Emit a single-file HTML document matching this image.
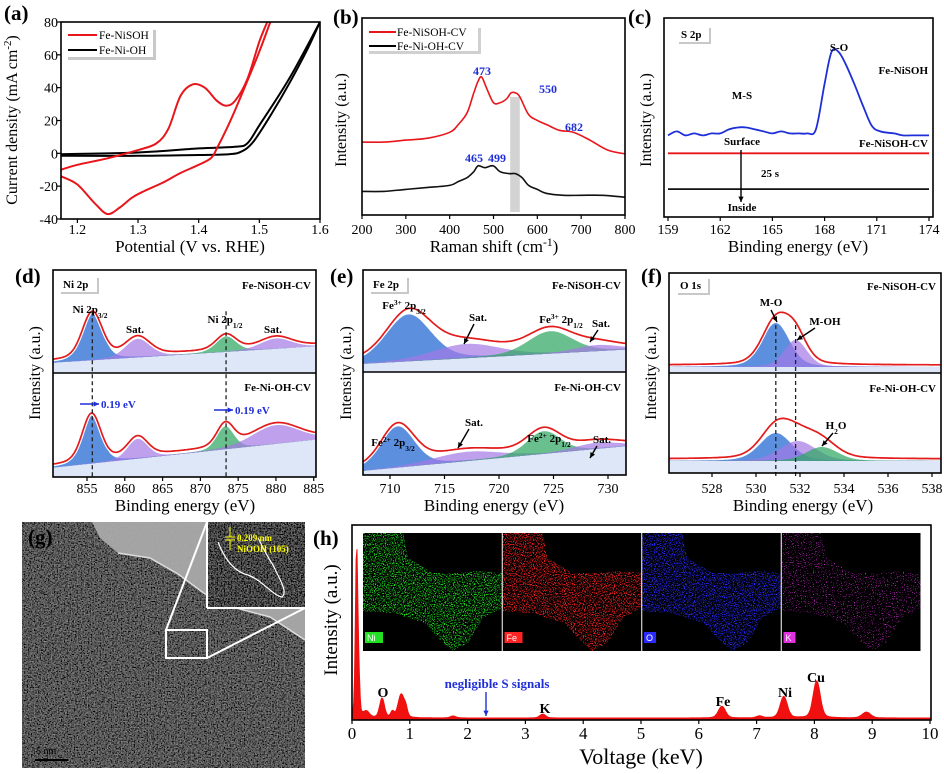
<!DOCTYPE html>
<html><head><meta charset="utf-8">
<style>
html,body{margin:0;padding:0;background:#fff;}
svg{display:block;font-family:"Liberation Serif","Noto Serif CJK SC",serif;}
</style></head>
<body>
<svg id="fig" width="944" height="774" viewBox="0 0 944 774" xmlns="http://www.w3.org/2000/svg">
<defs>
<filter id="tem" x="0" y="0" width="100%" height="100%">
<feTurbulence type="fractalNoise" baseFrequency="0.7" numOctaves="3" seed="3" result="n"/>
<feColorMatrix in="n" type="matrix" values="0.33 0.33 0.33 0 0  0.33 0.33 0.33 0 0  0.33 0.33 0.33 0 0  0 0 0 0 1" result="g"/>
<feComposite in="g" in2="SourceGraphic" operator="arithmetic" k1="0" k2="0.9" k3="0.7" k4="-0.42"/>
</filter>
<filter id="speck" x="0" y="0" width="100%" height="100%">
<feTurbulence type="fractalNoise" baseFrequency="0.9" numOctaves="1" seed="7" result="n"/>
<feColorMatrix in="n" type="matrix" values="0 0 0 0 0  0 0 0 0 0  0 0 0 0 0  10 0 0 0 -5.2" result="m"/>
<feComposite in="SourceGraphic" in2="m" operator="in"/>
</filter>
<filter id="speckK" x="0" y="0" width="100%" height="100%">
<feTurbulence type="fractalNoise" baseFrequency="0.9" numOctaves="1" seed="11" result="n"/>
<feColorMatrix in="n" type="matrix" values="0 0 0 0 0  0 0 0 0 0  0 0 0 0 0  12 0 0 0 -7.4" result="m"/>
<feComposite in="SourceGraphic" in2="m" operator="in"/>
</filter>
</defs>
</svg>
<script>
// ---------- data ----------
// (a) CV
const aRedX=[1.173,1.2,1.25,1.3,1.33,1.35,1.37,1.39,1.41,1.43,1.445,1.46,1.48,1.5,1.513];
const aRedY=[-10,-7,-3,2,6,15,35,42,40,32,29,32,45,68,80];
const aRedRevX=[1.518,1.5,1.47,1.45,1.43,1.42,1.40,1.37,1.34,1.31,1.29,1.27,1.25,1.23,1.2,1.173];
const aRedRevY=[80,62,35,18,3,-3,-7,-12,-18,-23,-27,-33,-37,-31,-19,-14];
const aBlkX=[1.173,1.3,1.4,1.45,1.47,1.49,1.52,1.55,1.58,1.6];
const aBlkY=[-1.5,-1.5,-1,-0.5,1,7,24,43,64,80];
const aBlkRevX=[1.6,1.55,1.5,1.48,1.46,1.4,1.3,1.173];
const aBlkRevY=[80,46,17,6,4,3,0.5,-0.5];
const aXTicks=[1.2,1.3,1.4,1.5,1.6];
const aYTicks=[-40,-20,0,20,40,60,80];
// (b) Raman
const bX=[200,250,300,350,400,420,440,455,465,473,485,500,515,530,540,550,560,580,600,620,650,682,720,760,800];
const bRed=[37,37,38,39,42,46,52,62,68,70,64,57,57,59,62,62,60,51,48,46,43,42,38,33,31];
const bBlkX=[200,250,300,350,400,420,440,455,465,480,499,515,535,550,565,580,600,620,660,700,750,800];
const bBlk=[12,12,13,14,15,17,19,22,25,24,25,22,21,21,19,15,13,11,10,10,10,9];
const bXTicks=[200,300,400,500,600,700,800];
// (c) S 2p
const cBlueX=[159,159.5,160,160.5,161,161.5,162,162.5,163,163.5,164,164.5,165,165.5,166,166.5,167,167.5,168,168.4,168.8,169.2,169.7,170.2,170.7,171.2,172,172.5,173,173.5,174];
const cBlue=[41,43,41,42,41,42,42,44,45,45,44,43,42,43,42,42,42,44,67,83,83,77,67,56,46,43,42,41,41,41,41];
const cRedLevel=32;
const cBlkLevel=14;
const cXTicks=[159,162,165,168,171,174];
// (d) Ni 2p  [centers, heights, widths]
const dTopC=[855.7,861.7,873.4,880.0], dTopH=[45,18,15,10], dTopW=[1.3,1.6,1.3,2.0], dTopBg=[10,26];
const dBotC=[855.6,861.7,873.3,880.0], dBotH=[46,19,22,18], dBotW=[1.2,1.3,1.1,3.0], dBotBg=[9,36];
const dXTicks=[855,860,865,870,875,880,885];
// (e) Fe 2p
const eTopC=[711.7,717.0,724.7,729.0], eTopH=[46,14,22,6], eTopW=[2.0,3.0,2.0,2.0], eTopBg=[8,22];
const eBotC=[710.7,717.0,724.1,729.0], eBotH=[40,9,22,6], eBotW=[1.5,3.0,1.5,2.0], eBotBg=[4,28];
const eXTicks=[710,715,720,725,730];
// (f) O 1s
const fTopC=[530.9,531.8], fTopH=[44,27], fTopW=[0.6,0.5], fTopBg=[6,6];
const fBotC=[530.9,531.9,533.0], fBotH=[28,20,14], fBotW=[0.7,0.8,0.7], fBotBg=[12,12];
const fXTicks=[528,530,532,534,536,538];
// (h) EDS
const hC=[0.08,0.12,0.25,0.52,0.7,0.85,0.93,1.75,3.3,6.4,7.05,7.47,8.04,8.9];
const hH=[88,15,3,10,3,12,4,1,2,6,1,11,19,3];
const hW=[0.02,0.015,0.05,0.04,0.03,0.05,0.03,0.05,0.05,0.06,0.05,0.06,0.06,0.07];
const hXTicks=[0,1,2,3,4,5,6,7,8,9,10];

// ---------- helpers ----------
const NS='http://www.w3.org/2000/svg';
const svg=document.getElementById('fig');
function mk(parent,tag,attrs,name,text){
  const el=document.createElementNS(NS,tag);
  for(const k in attrs) el.setAttribute(k,attrs[k]);
  
  
  if(text!==undefined) el.textContent=text;
  parent.appendChild(el); return el;
}
function lin(d0,d1,p0,p1){return v=>p0+(v-d0)/(d1-d0)*(p1-p0);}
function poly(pts){return 'M'+pts.map(p=>p[0].toFixed(1)+','+p[1].toFixed(1)).join('L');}
function smooth(pts){
  let d='M'+pts[0][0].toFixed(1)+','+pts[0][1].toFixed(1);
  for(let i=0;i<pts.length-1;i++){
    const p0=pts[i-1]||pts[i],p1=pts[i],p2=pts[i+1],p3=pts[i+2]||p2;
    const c1=[p1[0]+(p2[0]-p0[0])/6,p1[1]+(p2[1]-p0[1])/6];
    const c2=[p2[0]-(p3[0]-p1[0])/6,p2[1]-(p3[1]-p1[1])/6];
    d+=' C'+c1[0].toFixed(1)+','+c1[1].toFixed(1)+' '+c2[0].toFixed(1)+','+c2[1].toFixed(1)+' '+p2[0].toFixed(1)+','+p2[1].toFixed(1);
  }
  return d;
}
function box(g,x0,y0,x1,y1,name){mk(g,'rect',{x:x0,y:y0,width:x1-x0,height:y1-y0,fill:'none',stroke:'#000','stroke-width':1.6},name);}
function xTicks(g,ticks,xs,yb,ty,fs,name){
  ticks.forEach(t=>{
    mk(g,'line',{x1:xs(t),x2:xs(t),y1:yb,y2:yb+4,stroke:'#000','stroke-width':1.2},name+'-tick');
    mk(g,'text',{x:xs(t),y:ty,'font-size':fs,'text-anchor':'middle'},name+'-label',String(t));
  });
}
function ytitle(g,x,y,txt,fs,name){mk(g,'text',{x:x,y:y,'font-size':fs,'text-anchor':'middle',transform:'rotate(-90 '+x+' '+y+')'},name,txt);}
function plabel(g,x,y,txt){mk(g,'text',{x:x,y:y,'font-size':21,'font-weight':'bold'},'panel-label',txt);}
function btxt(g,x,y,txt,fs,anchor,name,fill){return mk(g,'text',{x:x,y:y,'font-size':fs||11,'font-weight':'bold','text-anchor':anchor||'middle',fill:fill||'#000'},name,txt);}
function rtxt(g,x,y,parts,fs,anchor,name,bold,transform){
  const at={x:x,y:y,'font-size':fs,'text-anchor':anchor||'middle'};
  if(bold) at['font-weight']='bold';
  if(transform) at.transform=transform;
  const t=mk(g,'text',at,name);
  parts.forEach(p=>{
    const s=mk(t,'tspan',{},name+'-part',p[0]);
    if(p[1]==='sub'){s.setAttribute('font-size',fs*0.68);s.setAttribute('baseline-shift','sub');}
    if(p[1]==='sup'){s.setAttribute('font-size',fs*0.68);s.setAttribute('baseline-shift','super');}
  });
  return t;
}
function gauss(x,c,h,w){const u=(x-c)/w;return h*(0.75*Math.exp(-u*u/2)+0.25/(1+u*u/2));}
function arrow(g,x1,y1,x2,y2,col,name){
  mk(g,'line',{x1:x1,y1:y1,x2:x2,y2:y2,stroke:col,'stroke-width':1.4},name);
  const a=Math.atan2(y2-y1,x2-x1),L=6;
  const p=[[x2,y2],[x2-L*Math.cos(a-0.45),y2-L*Math.sin(a-0.45)],[x2-L*Math.cos(a+0.45),y2-L*Math.sin(a+0.45)]];
  mk(g,'path',{d:poly(p)+'Z',fill:col},name+'-head');
}
function tagBox(g,x,y,txt,name){
  mk(g,'rect',{x:x+2,y:y+2,width:txt.length*6+8,height:16,fill:'#c8c8c8'},name+'-shadow');
  mk(g,'rect',{x:x,y:y,width:txt.length*6+8,height:16,fill:'#fff'},name+'-bg');
  btxt(g,x+4,y+12,txt,11,'start',name);
}
const COL={b:['#2f6fd6',0.78],p:['#a478e6',0.7],g:['#2fa862',0.72]};

// ---------- (a) ----------
(function(){
  const g=mk(svg,'g',{},'panel-a-cv');
  const X0=61,X1=320,Y0=22,Y1=219;
  const xs=lin(1.173,1.6,X0,X1), ys=lin(-40,80,Y1,Y0);
  const clip=mk(g,'clipPath',{id:'clipA'},'clip-a');
  mk(clip,'rect',{x:X0,y:Y0,width:X1-X0,height:Y1-Y0},'clip-a-rect');
  const pl=mk(g,'g',{'clip-path':'url(#clipA)'},'plot-area-a');
  mk(pl,'path',{d:smooth(aBlkX.map((x,i)=>[xs(x),ys(aBlkY[i])])),fill:'none',stroke:'#000','stroke-width':2},'fe-ni-oh-forward');
  mk(pl,'path',{d:smooth(aBlkRevX.map((x,i)=>[xs(x),ys(aBlkRevY[i])])),fill:'none',stroke:'#000','stroke-width':2},'fe-ni-oh-reverse');
  mk(pl,'path',{d:smooth(aRedX.map((x,i)=>[xs(x),ys(aRedY[i])])),fill:'none',stroke:'#e8161b','stroke-width':2},'fe-nisoh-forward');
  mk(pl,'path',{d:smooth(aRedRevX.map((x,i)=>[xs(x),ys(aRedRevY[i])])),fill:'none',stroke:'#e8161b','stroke-width':2},'fe-nisoh-reverse');
  box(g,X0,Y0,X1,Y1,'plot-frame-a');
  xTicks(g,aXTicks,xs,Y1,234,14,'x-tick-a');
  aYTicks.forEach(t=>{
    mk(g,'line',{x1:X0,x2:X0-4,y1:ys(t),y2:ys(t),stroke:'#000','stroke-width':1.2},'y-tick-a');
    mk(g,'text',{x:X0-3,y:ys(t)+5,'font-size':14,'text-anchor':'end'},'y-tick-label-a',String(t));
  });
  rtxt(g,190,252,[['Potential (V '],['vs.','i'],[' RHE)']],17,'middle','x-axis-title-a',false);
  rtxt(g,17,120,[['Current density (mA cm'],['-2','sup'],[')']],16,'middle','y-axis-title-a',false,'rotate(-90 17 120)');
  plabel(g,4,20,'(a)');
  mk(g,'rect',{x:68,y:30,width:88,height:30,fill:'#c8c8c8'},'legend-shadow-a');
  mk(g,'rect',{x:65,y:27,width:88,height:30,fill:'#fff'},'legend-a');
  mk(g,'line',{x1:68,x2:97,y1:35,y2:35,stroke:'#e8161b','stroke-width':2},'legend-swatch-fe-nisoh');
  mk(g,'text',{x:99,y:39,'font-size':11.5},'legend-entry-fe-nisoh','Fe-NiSOH');
  mk(g,'line',{x1:68,x2:97,y1:50,y2:50,stroke:'#000','stroke-width':2},'legend-swatch-fe-ni-oh');
  mk(g,'text',{x:99,y:54,'font-size':11.5},'legend-entry-fe-ni-oh','Fe-Ni-OH');
})();

// ---------- (b) ----------
(function(){
  const g=mk(svg,'g',{},'panel-b-raman');
  const X0=362,X1=625,Y0=18,Y1=215;
  const xs=lin(200,800,X0,X1), ys=lin(0,100,Y1,Y0);
  mk(g,'rect',{x:xs(538),y:97,width:xs(560)-xs(538),height:115,fill:'#d3d3d3'},'highlight-band-550');
  mk(g,'path',{d:smooth(bX.map((x,i)=>[xs(x),ys(bRed[i])])),fill:'none',stroke:'#e8161b','stroke-width':1.6},'fe-nisoh-cv-spectrum');
  mk(g,'path',{d:smooth(bBlkX.map((x,i)=>[xs(x),ys(bBlk[i])])),fill:'none',stroke:'#111','stroke-width':1.6},'fe-ni-oh-cv-spectrum');
  box(g,X0,Y0,X1,Y1,'plot-frame-b');
  xTicks(g,bXTicks,xs,Y1,234,14,'x-tick-b');
  rtxt(g,494,252,[['Raman shift (cm'],['-1','sup'],[')']],17,'middle','x-axis-title-b',false);
  ytitle(g,346,120,'Intensity (a.u.)',16,'y-axis-title-b');
  plabel(g,333,24,'(b)');
  mk(g,'rect',{x:369,y:28,width:112,height:26,fill:'#d0d0d0'},'legend-shadow-b');
  mk(g,'rect',{x:366,y:25,width:112,height:26,fill:'#fff'},'legend-b');
  mk(g,'line',{x1:369,x2:396,y1:32,y2:32,stroke:'#e8161b','stroke-width':2},'legend-swatch-fe-nisoh-cv');
  mk(g,'text',{x:397,y:36,'font-size':11.5},'legend-entry-fe-nisoh-cv','Fe-NiSOH-CV');
  mk(g,'line',{x1:369,x2:396,y1:46,y2:46,stroke:'#000','stroke-width':2},'legend-swatch-fe-ni-oh-cv');
  mk(g,'text',{x:397,y:50,'font-size':11.5},'legend-entry-fe-ni-oh-cv','Fe-Ni-OH-CV');
  const B='#1f2fd8';
  btxt(g,482,75,'473',12,'middle','peak-label-473',B);
  btxt(g,548,93,'550',12,'middle','peak-label-550',B);
  btxt(g,574,131,'682',12,'middle','peak-label-682',B);
  btxt(g,474,162,'465',12,'middle','peak-label-465',B);
  btxt(g,497,162,'499',12,'middle','peak-label-499',B);
})();

// ---------- (c) ----------
(function(){
  const g=mk(svg,'g',{},'panel-c-s2p');
  const X0=664,X1=933,Y0=18,Y1=217;
  const xs=lin(159,174,668,929), ys=lin(0,100,Y1,Y0);
  mk(g,'path',{d:smooth(cBlueX.map((x,i)=>[xs(x),ys(cBlue[i])])),fill:'none',stroke:'#1f2fd8','stroke-width':1.8},'fe-nisoh-s2p-spectrum');
  mk(g,'path',{d:poly([[xs(159),ys(cRedLevel)],[xs(174),ys(cRedLevel)]]),fill:'none',stroke:'#e8161b','stroke-width':1.8},'fe-nisoh-cv-s2p-spectrum');
  mk(g,'path',{d:poly([[xs(159),ys(cBlkLevel)],[xs(174),ys(cBlkLevel)]]),fill:'none',stroke:'#111','stroke-width':1.8},'inside-s2p-spectrum');
  box(g,X0,Y0,X1,Y1,'plot-frame-c');
  xTicks(g,cXTicks,xs,Y1,234,14,'x-tick-c');
  mk(g,'text',{x:798,y:252,'font-size':17,'text-anchor':'middle'},'x-axis-title-c','Binding energy (eV)');
  ytitle(g,651,120,'Intensity (a.u.)',16,'y-axis-title-c');
  plabel(g,628,24,'(c)');
  tagBox(g,677,26,'S 2p','element-tag-s2p');
  btxt(g,839,51,'S-O',11,'middle','peak-label-s-o');
  btxt(g,928,74,'Fe-NiSOH',11,'end','series-label-fe-nisoh');
  btxt(g,742,99,'M-S',11,'middle','peak-label-m-s');
  btxt(g,742,145,'Surface',11,'middle','depth-label-surface');
  btxt(g,928,147,'Fe-NiSOH-CV',11,'end','series-label-fe-nisoh-cv');
  btxt(g,770,177,'25 s',11,'middle','etch-time-label');
  btxt(g,742,211,'Inside',11,'middle','depth-label-inside');
  arrow(g,741,150,741,202,'#000','depth-arrow');
})();

// ---------- XPS generic ----------
function xps(g,xs,yb,yt,xmin,xmax,C,H,W,BG,cols,name){
  const ys=lin(0,100,yb,yt);
  const N=220, xsamp=[];
  for(let i=0;i<=N;i++) xsamp.push(xmin+(xmax-xmin)*i/N);
  const bg=x=>BG[0]+(BG[1]-BG[0])*(x-xmin)/(xmax-xmin);
  mk(g,'path',{d:poly([[xs(xmin),yb]].concat(xsamp.map(x=>[xs(x),ys(bg(x))])).concat([[xs(xmax),yb]]))+'Z',fill:'#9fb9ea',opacity:0.35},name+'-background-fill');
  C.forEach((c,k)=>{
    const top=xsamp.map(x=>[xs(x),ys(bg(x)+gauss(x,c,H[k],W[k]))]);
    const bot=xsamp.slice().reverse().map(x=>[xs(x),ys(bg(x))]);
    const cl=COL[cols[k]];
    mk(g,'path',{d:poly(top.concat(bot))+'Z',fill:cl[0],'fill-opacity':cl[1]},name+'-component-'+k);
  });
  const env=xsamp.map(x=>{let s=bg(x);C.forEach((c,k)=>{s+=gauss(x,c,H[k],W[k]);});return [xs(x),ys(s+2)];});
  mk(g,'path',{d:poly(env),fill:'none',stroke:'#fff','stroke-width':4},name+'-envelope-halo');
  mk(g,'path',{d:poly(env),fill:'none',stroke:'#e31b1b','stroke-width':1.7},name+'-envelope');
  return ys;
}

// ---------- (d) ----------
(function(){
  const g=mk(svg,'g',{},'panel-d-ni2p');
  const X0=53,X1=316,Y0=270,YM=373,Y1=477;
  const xs=lin(850.5,885.3,X0,X1);
  const ysT=xps(g,xs,YM,Y0,850.5,885.3,dTopC,dTopH,dTopW,dTopBg,['b','p','g','p'],'fe-nisoh-cv-ni2p');
  xps(g,xs,Y1,YM,850.5,885.3,dBotC,dBotH,dBotW,dBotBg,['b','p','g','p'],'fe-ni-oh-cv-ni2p');
  [855.7,873.4].forEach(v=>mk(g,'line',{x1:xs(v),x2:xs(v),y1:ysT(60),y2:Y1,stroke:'#222','stroke-width':1.3,'stroke-dasharray':'4,3'},'reference-dashed-line'));
  box(g,X0,Y0,X1,Y1,'plot-frame-d');
  mk(g,'line',{x1:X0,x2:X1,y1:YM,y2:YM,stroke:'#000','stroke-width':1.4},'subpanel-divider-d');
  xTicks(g,dXTicks,xs,Y1,493,14,'x-tick-d');
  mk(g,'text',{x:185,y:511,'font-size':17,'text-anchor':'middle'},'x-axis-title-d','Binding energy (eV)');
  ytitle(g,40,373,'Intensity (a.u.)',16,'y-axis-title-d');
  plabel(g,15,283,'(d)');
  tagBox(g,59,276,'Ni 2p','element-tag-ni2p');
  btxt(g,311,289,'Fe-NiSOH-CV',11,'end','series-label-top-d');
  btxt(g,311,391,'Fe-Ni-OH-CV',11,'end','series-label-bottom-d');
  rtxt(g,90,313,[['Ni 2p'],['3/2','sub']],11,'middle','peak-label-ni2p32',true);
  btxt(g,135,333,'Sat.',11,'middle','peak-label-sat-1');
  rtxt(g,225,323,[['Ni 2p'],['1/2','sub']],11,'middle','peak-label-ni2p12',true);
  btxt(g,273,333,'Sat.',11,'middle','peak-label-sat-2');
  arrow(g,80,404,99,404,'#1f2fd8','shift-arrow-1');
  btxt(g,101,408,'0.19 eV',11,'start','shift-label-1','#1f2fd8');
  arrow(g,214,410,233,410,'#1f2fd8','shift-arrow-2');
  btxt(g,235,414,'0.19 eV',11,'start','shift-label-2','#1f2fd8');
})();

// ---------- (e) ----------
(function(){
  const g=mk(svg,'g',{},'panel-e-fe2p');
  const X0=363,X1=626,Y0=270,YM=372,Y1=475;
  const xs=lin(710,730,390,608);
  const xmin=707.5,xmax=731.6;
  xps(g,xs,YM,Y0,xmin,xmax,eTopC,eTopH,eTopW,eTopBg,['b','p','g','p'],'fe-nisoh-cv-fe2p');
  xps(g,xs,Y1,YM,xmin,xmax,eBotC,eBotH,eBotW,eBotBg,['b','p','g','p'],'fe-ni-oh-cv-fe2p');
  box(g,X0,Y0,X1,Y1,'plot-frame-e');
  mk(g,'line',{x1:X0,x2:X1,y1:YM,y2:YM,stroke:'#000','stroke-width':1.4},'subpanel-divider-e');
  xTicks(g,eXTicks,xs,Y1,493,14,'x-tick-e');
  mk(g,'text',{x:494,y:511,'font-size':17,'text-anchor':'middle'},'x-axis-title-e','Binding energy (eV)');
  ytitle(g,351,373,'Intensity (a.u.)',16,'y-axis-title-e');
  plabel(g,330,283,'(e)');
  tagBox(g,369,276,'Fe 2p','element-tag-fe2p');
  btxt(g,621,289,'Fe-NiSOH-CV',11,'end','series-label-top-e');
  btxt(g,621,391,'Fe-Ni-OH-CV',11,'end','series-label-bottom-e');
  rtxt(g,404,309,[['Fe'],['3+','sup'],[' 2p'],['3/2','sub']],11,'middle','peak-label-fe3-2p32',true);
  btxt(g,478,321,'Sat.',11,'middle','peak-label-sat-e1');
  arrow(g,474,324,464,344,'#000','sat-arrow-e1');
  rtxt(g,561,323,[['Fe'],['3+','sup'],[' 2p'],['1/2','sub']],11,'middle','peak-label-fe3-2p12',true);
  btxt(g,601,327,'Sat.',11,'middle','peak-label-sat-e2');
  arrow(g,598,330,590,342,'#000','sat-arrow-e2');
  rtxt(g,393,446,[['Fe'],['2+','sup'],[' 2p'],['3/2','sub']],11,'middle','peak-label-fe2-2p32',true);
  btxt(g,474,426,'Sat.',11,'middle','peak-label-sat-e3');
  arrow(g,469,429,458,448,'#000','sat-arrow-e3');
  rtxt(g,549,442,[['Fe'],['2+','sup'],[' 2p'],['1/2','sub']],11,'middle','peak-label-fe2-2p12',true);
  btxt(g,602,443,'Sat.',11,'middle','peak-label-sat-e4');
  arrow(g,597,446,590,458,'#000','sat-arrow-e4');
})();

// ---------- (f) ----------
(function(){
  const g=mk(svg,'g',{},'panel-f-o1s');
  const X0=669,X1=941,Y0=273,YM=373,Y1=473;
  const xs=lin(528,538,712,932);
  const xmin=526.05,xmax=538.4;
  const ysT=xps(g,xs,YM,Y0,xmin,xmax,fTopC,fTopH,fTopW,fTopBg,['b','p'],'fe-nisoh-cv-o1s');
  xps(g,xs,Y1,YM,xmin,xmax,fBotC,fBotH,fBotW,fBotBg,['b','p','g'],'fe-ni-oh-cv-o1s');
  [530.9,531.8].forEach(v=>mk(g,'line',{x1:xs(v),x2:xs(v),y1:ysT(48),y2:Y1+6,stroke:'#222','stroke-width':1.3,'stroke-dasharray':'4,3'},'reference-dashed-line'));
  box(g,X0,Y0,X1,Y1,'plot-frame-f');
  mk(g,'line',{x1:X0,x2:X1,y1:YM,y2:YM,stroke:'#000','stroke-width':1.4},'subpanel-divider-f');
  xTicks(g,fXTicks,xs,Y1,493,14,'x-tick-f');
  mk(g,'text',{x:803,y:511,'font-size':17,'text-anchor':'middle'},'x-axis-title-f','Binding energy (eV)');
  ytitle(g,656,373,'Intensity (a.u.)',16,'y-axis-title-f');
  plabel(g,641,283,'(f)');
  tagBox(g,676,277,'O 1s','element-tag-o1s');
  btxt(g,936,290,'Fe-NiSOH-CV',11,'end','series-label-top-f');
  btxt(g,936,392,'Fe-Ni-OH-CV',11,'end','series-label-bottom-f');
  btxt(g,771,306,'M-O',11,'middle','peak-label-m-o');
  arrow(g,771,310,777,322,'#000','m-o-arrow');
  btxt(g,825,325,'M-OH',11,'middle','peak-label-m-oh');
  arrow(g,815,328,797,340,'#000','m-oh-arrow');
  rtxt(g,836,429,[['H'],['2','sub'],['O']],11,'middle','peak-label-h2o',true);
  arrow(g,833,433,822,446,'#000','h2o-arrow');
})();

// ---------- (g) TEM ----------
(function(){
  const g=mk(svg,'g',{},'panel-g-tem');
  mk(g,'rect',{x:22,y:522,width:283,height:246,fill:'#5c5c5c',filter:'url(#tem)'},'tem-image');
  mk(g,'path',{d:'M92,522 L305,522 L305,640 L270,617 L240,609 L205,594 L178,574 L150,558 L118,553 L100,538 Z',fill:'#a9a9a9',opacity:0.95},'vacuum-region');
  mk(g,'path',{d:'M118,553 L150,558 L178,574 L205,594 L240,609 L270,617 L305,640',fill:'none',stroke:'#dcdcdc','stroke-width':1.5},'particle-edge');
  mk(g,'rect',{x:208,y:522,width:97,height:86,fill:'#454545',filter:'url(#tem)'},'hrtem-inset');
  mk(g,'path',{d:'M218,542 C225,560 235,572 248,575 C262,580 272,595 282,597 C288,592 280,580 273,565 C266,555 262,545 258,538',fill:'none',stroke:'#fff','stroke-width':1.2},'lattice-outline');
  mk(g,'line',{x1:207,y1:522,x2:207,y2:608,stroke:'#fff','stroke-width':2},'inset-border-left');
  mk(g,'line',{x1:207,y1:608,x2:305,y2:608,stroke:'#fff','stroke-width':2},'inset-border-bottom');
  mk(g,'rect',{x:166,y:630,width:41,height:28,fill:'none',stroke:'#fff','stroke-width':2},'zoom-region-box');
  mk(g,'line',{x1:166,y1:630,x2:207,y2:522,stroke:'#fff','stroke-width':2},'zoom-line-1');
  mk(g,'line',{x1:207,y1:658,x2:305,y2:608,stroke:'#fff','stroke-width':2},'zoom-line-2');
  mk(g,'line',{x1:230,y1:527,x2:230,y2:537,stroke:'#ffff00','stroke-width':1},'d-spacing-marker');
  mk(g,'line',{x1:225,y1:537,x2:235,y2:537,stroke:'#ffff00','stroke-width':1},'d-spacing-bar1');
  mk(g,'line',{x1:225,y1:540,x2:235,y2:540,stroke:'#ffff00','stroke-width':1},'d-spacing-bar2');
  mk(g,'line',{x1:230,y1:540,x2:230,y2:550,stroke:'#ffff00','stroke-width':1},'d-spacing-marker-2');
  mk(g,'text',{x:237,y:541,'font-size':9,fill:'#ffff00','font-weight':'bold'},'d-spacing-label','0.209 nm');
  mk(g,'text',{x:237,y:552,'font-size':9,fill:'#ffff00','font-weight':'bold'},'plane-label','NiOOH (105)');
  mk(g,'line',{x1:35,y1:760,x2:68,y2:760,stroke:'#000','stroke-width':2},'scale-bar');
  mk(g,'text',{x:36,y:754,'font-size':10,fill:'#000'},'scale-bar-label','5 nm');
  plabel(g,28,544,'(g)');
})();

// ---------- (h) EDS ----------
(function(){
  const g=mk(svg,'g',{},'panel-h-eds');
  const X0=352,X1=931,Y0=525,Y1=720;
  const xs=lin(0,10,X0,930), ys=lin(0,100,Y1,Y0);
  const N=700, pts=[];
  for(let i=0;i<=N;i++){const x=10*i/N;let s=1;hC.forEach((c,k)=>{s+=gauss(x,c,hH[k],hW[k]);});pts.push([xs(x),ys(s)]);}
  mk(g,'path',{d:poly([[xs(0),Y1]].concat(pts).concat([[xs(10),Y1]]))+'Z',fill:'#f01010',stroke:'#f01010','stroke-width':1},'eds-spectrum');
  const tiles=[['Ni','#22e022','speck'],['Fe','#ff2424','speck'],['O','#2a2aff','speck'],['K','#e030e0','speckK']];
  const tw=139,th=118,tx0=363,ty0=533;
  tiles.forEach((t,i)=>{
    const x=tx0+i*(tw+0.5);
    mk(g,'rect',{x:x,y:ty0,width:tw,height:th,fill:'#000'},'element-map-'+t[0]);
    const blob='M'+x+','+ty0+' l40,0 l5,25 l25,15 l25,0 l20,-2 l24,2 l0,35 l-19,10 l-15,25 l-15,8 l-15,-13 l-13,-15 l-17,-5 l-15,-5 l-30,-2 Z';
    mk(g,'path',{d:blob,fill:t[1],filter:'url(#'+t[2]+')',opacity:0.95},'element-map-signal-'+t[0]);
    mk(g,'rect',{x:x+2,y:ty0+99,width:t[0].length*6+6,height:11,fill:t[1]},'element-map-tag-'+t[0]);
    mk(g,'text',{x:x+4,y:ty0+108,'font-size':9,fill:'#fff','font-family':'Liberation Sans, sans-serif'},'element-map-tag-text-'+t[0],t[0]);
    if(i>0) mk(g,'line',{x1:x-0.25,x2:x-0.25,y1:ty0,y2:ty0+th,stroke:'#fff','stroke-width':1},'element-map-separator');
  });
  box(g,X0,Y0,X1,Y1,'plot-frame-h');
  xTicks(g,hXTicks,xs,Y1,739,17,'x-tick-h');
  mk(g,'text',{x:641,y:764,'font-size':22,'text-anchor':'middle'},'x-axis-title-h','Voltage (keV)');
  ytitle(g,337,620,'Intensity (a.u.)',19,'y-axis-title-h');
  plabel(g,313,545,'(h)');
  btxt(g,383,697,'O',14,'middle','element-label-o');
  btxt(g,545,713,'K',14,'middle','element-label-k');
  btxt(g,723,706,'Fe',14,'middle','element-label-fe');
  btxt(g,785,697,'Ni',14,'middle','element-label-ni');
  btxt(g,816,682,'Cu',14,'middle','element-label-cu');
  btxt(g,497,688,'negligible S signals',13,'middle','annotation-negligible-s','#1f2fd8');
  arrow(g,486,692,486,716,'#1f2fd8','negligible-s-arrow');
})();
</script>
</body></html>
